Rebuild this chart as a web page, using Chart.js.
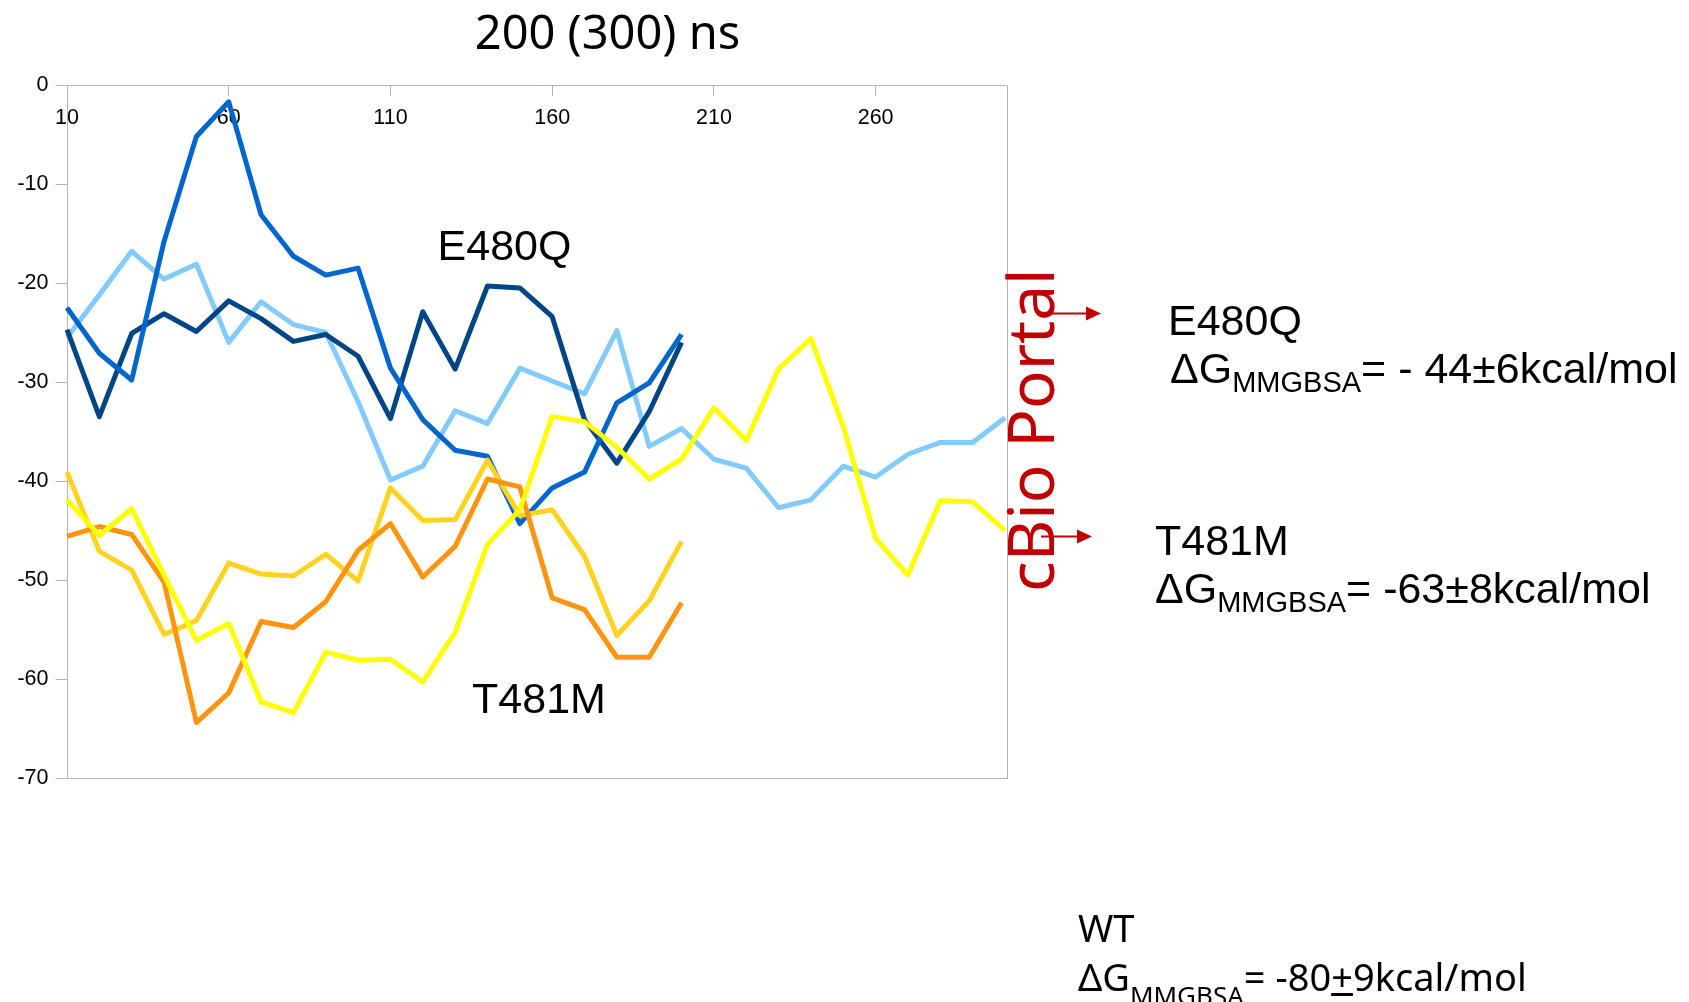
<!DOCTYPE html>
<html>
<head>
<meta charset="utf-8">
<title>200 (300) ns</title>
<script src="https://cdn.jsdelivr.net/npm/chart.js@4"></script>
<style>
  body { margin: 0; background: #fff; }
  #wrap { position: relative; width: 1689px; height: 1002px; overflow: hidden; }
  .note { position: absolute; white-space: nowrap; line-height: 1; color: #000; }
  .arial { font-family: "Liberation Sans", Arial, sans-serif; font-size: 43px; }
  .noto { font-family: "Noto Sans", sans-serif; }
  .sub { position: relative; font-size: 29px; top: 9px; }
  .subWt { position: relative; font-size: 26px; top: 14px; }
</style>
</head>
<body>
<div id="wrap">
  <canvas id="chart" width="1689" height="1002"></canvas>

  <div class="note noto" style="font-size:47px; left:607.5px; top:8.3px; transform:translateX(-50%);">200 (300) ns</div>

  <div class="note arial" style="left:504.5px; top:223.6px; transform:translateX(-50%);">E480Q</div>
  <div class="note arial" style="left:539px; top:676.9px; transform:translateX(-50%);">T481M</div>

  <div class="note noto" style="font-size:64px; color:#c00000; left:998px; top:592px; transform:rotate(-90deg); transform-origin:0 0;">cBio Portal</div>

  <div class="note arial" style="left:1168px; top:298.6px;">E480Q</div>
  <div class="note arial" style="left:1170px; top:346.6px;">ΔG<span class="sub">MMGBSA</span>= - 44±6kcal/mol</div>

  <div class="note arial" style="left:1155px; top:518.6px;">T481M</div>
  <div class="note arial" style="left:1155px; top:566.6px;">ΔG<span class="sub">MMGBSA</span>= -63±8kcal/mol</div>

  <div class="note noto" style="font-size:38px; left:1078px; top:907.8px;">WT</div>
  <div class="note noto" style="font-size:38px; left:1078px; top:957.3px;">ΔG<span class="subWt">MMGBSA</span>= -80<u>+</u>9kcal/mol</div>
</div>

<script>
// simulation time (ns)
const timeLabels = ['10', '20', '30', '40', '50', '60', '70', '80', '90', '100',
                    '110', '120', '130', '140', '150', '160', '170', '180', '190', '200',
                    '210', '220', '230', '240', '250', '260', '270', '280', '290', '300'];

// E480Q runs
const e480qRun1 = [-25.5, -21.2, -16.8, -19.6, -18.1, -26.0, -21.9, -24.2, -25.0, -32.0,
                   -39.9, -38.5, -32.9, -34.2, -28.6, -29.9, -31.2, -24.8, -36.5, -34.7,
                   -37.8, -38.7, -42.7, -41.9, -38.5, -39.6, -37.3, -36.1, -36.1, -33.6];
const e480qRun2 = [-22.5, -27.1, -29.8, -15.8, -5.2, -1.7, -13.1, -17.3, -19.2, -18.5,
                   -28.6, -33.8, -36.9, -37.5, -44.3, -40.7, -39.1, -32.1, -30.1, -25.2];
const e480qRun3 = [-24.7, -33.5, -25.1, -23.1, -24.9, -21.8, -23.6, -25.9, -25.2, -27.4,
                   -33.7, -22.9, -28.7, -20.3, -20.5, -23.4, -33.8, -38.2, -33.0, -26.0];

// T481M runs
const t481mRun1 = [-41.9, -45.5, -42.8, -49.5, -56.1, -54.4, -62.3, -63.4, -57.3, -58.1,
                   -58.0, -60.3, -55.3, -46.4, -42.9, -33.5, -34.0, -36.6, -39.8, -37.8,
                   -32.6, -35.9, -28.7, -25.6, -34.5, -45.8, -49.5, -42.0, -42.1, -45.0];
const t481mRun2 = [-39.1, -47.1, -49.0, -55.5, -54.1, -48.3, -49.4, -49.6, -47.4, -50.1,
                   -40.7, -44.0, -43.9, -37.9, -43.5, -42.9, -47.6, -55.6, -52.1, -46.1];
const t481mRun3 = [-45.6, -44.6, -45.4, -50.2, -64.4, -61.4, -54.2, -54.8, -52.2, -47.0,
                   -44.3, -49.7, -46.6, -39.8, -40.6, -51.8, -53.0, -57.8, -57.8, -52.3];

const yMin = -70;
const yMax = 0;
const yStep = 10;

const axisGrey = '#b3b3b3';
const tickFont = { family: '"Liberation Sans", Arial, sans-serif', size: 21.5 };

// grey wall border plus the two red arrows next to "cBio Portal"
const plotFrame = {
    id: 'plotFrame',
    beforeDatasetsDraw(chart) {
        const { ctx, chartArea: a } = chart;
        ctx.save();
        ctx.strokeStyle = axisGrey;
        ctx.lineWidth = 1;
        ctx.beginPath();
        ctx.moveTo(a.left, Math.round(a.bottom) + 0.5);
        ctx.lineTo(a.right + 3, Math.round(a.bottom) + 0.5);
        ctx.moveTo(Math.round(a.right) + 2.5, a.top);
        ctx.lineTo(Math.round(a.right) + 2.5, a.bottom);
        ctx.stroke();
        ctx.restore();
    },
    afterDraw(chart) {
        const ctx = chart.ctx;
        const arrow = (x1, x2, y) => {
            ctx.beginPath();
            ctx.moveTo(x1, y);
            ctx.lineTo(x2 - 14, y);
            ctx.stroke();
            ctx.beginPath();
            ctx.moveTo(x2 - 15, y - 7);
            ctx.lineTo(x2, y);
            ctx.lineTo(x2 - 15, y + 7);
            ctx.closePath();
            ctx.fill();
        };
        ctx.save();
        ctx.strokeStyle = '#c00000';
        ctx.fillStyle = '#c00000';
        ctx.lineWidth = 2;
        arrow(1045, 1101, 313.5);
        arrow(1041, 1092, 536.5);
        ctx.restore();
    }
};

const ctx = document.getElementById('chart');

new Chart(ctx, {
    type: 'line',
    data: {
        labels: timeLabels,
        datasets: [
            { data: t481mRun1, borderColor: '#ffff00' },
            { data: t481mRun3, borderColor: '#ff950e' },
            { data: t481mRun2, borderColor: '#ffd320' },
            { data: e480qRun2, borderColor: '#0066cc' },
            { data: e480qRun3, borderColor: '#004586' },
            { data: e480qRun1, borderColor: '#83caff' }
        ]
    },
    options: {
        responsive: false,
        animation: false,
        devicePixelRatio: 1,
        layout: { padding: { left: 0, top: 85, right: 684, bottom: 224 } },
        elements: {
            point: { radius: 0 },
            line: { borderWidth: 5, tension: 0, borderJoinStyle: 'round', fill: false }
        },
        plugins: {
            legend: { display: false },
            tooltip: { enabled: false }
        },
        scales: {
            x: {
                position: { y: 0 },
                offset: false,
                grid: {
                    drawOnChartArea: false,
                    tickLength: 10,
                    tickColor: c => c.index % 5 === 0 ? axisGrey : 'rgba(0,0,0,0)'
                },
                border: { color: axisGrey, width: 1 },
                ticks: {
                    autoSkip: false,
                    maxRotation: 0,
                    padding: 10,
                    color: '#000',
                    font: tickFont,
                    callback: (v, i) => i % 5 === 0 ? timeLabels[i] : ''
                }
            },
            y: {
                position: 'left',
                min: yMin,
                max: yMax,
                ticks: { stepSize: yStep, padding: 7, color: '#000', font: tickFont },
                grid: { drawOnChartArea: false, tickLength: 11.5, color: axisGrey },
                border: { color: axisGrey, width: 1 },
                afterFit: s => { s.width = 67; }
            }
        }
    },
    plugins: [plotFrame]
});
</script>
</body>
</html>
